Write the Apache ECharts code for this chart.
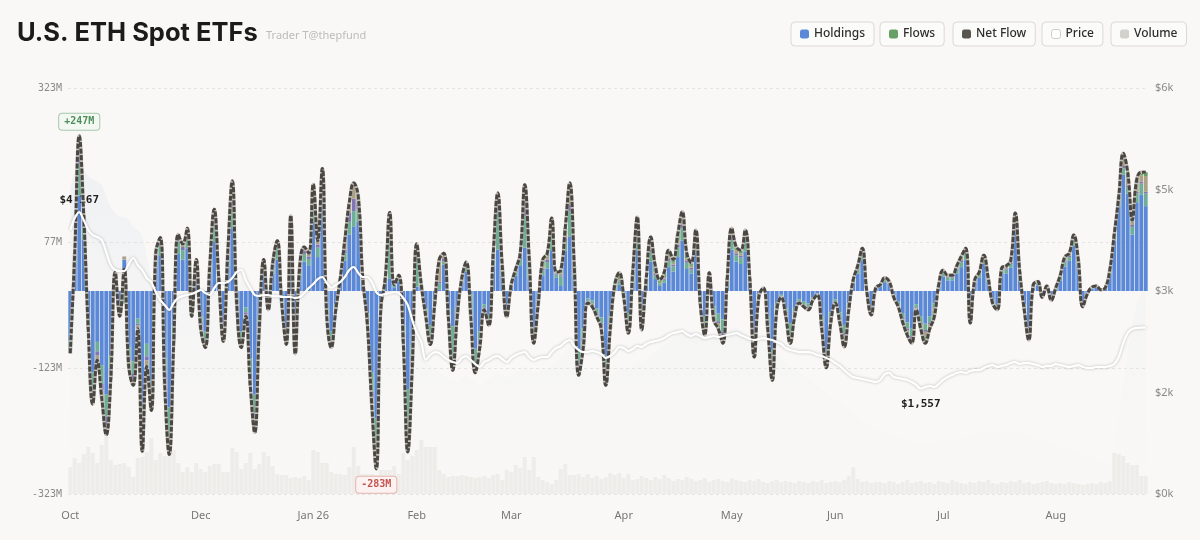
<!DOCTYPE html>
<html><head><meta charset="utf-8">
<script src="https://cdn.jsdelivr.net/npm/echarts@6/dist/echarts.min.js"></script>
<style>html,body{margin:0;padding:0;background:#f9f8f6;}#c{width:1200px;height:540px;}</style>
</head><body><div id="c"></div>
<script>
// ---- tick labels ----
const xTickIndex = [0, 29, 54, 77, 98, 123, 147, 170, 194, 219];
const xTickLabels = ['Oct', 'Dec', 'Jan 26', 'Feb', 'Mar', 'Apr', 'May', 'Jun', 'Jul', 'Aug'];
const flowTicks = [-323, -123, 77, 323];

// ---- daily net flow ($M) ----
const netFlow = [
-99,60,247,120,-60,-180,-110,-170,-229,-140,
30,-40,35,-120,-150,-60,-255,-120,-190,60,
85,-150,-260,-80,90,75,100,-40,50,-60,
-90,40,130,20,-80,60,175,-20,-90,-40,
-150,-225,-60,50,-30,45,80,-20,-85,120,
-100,40,70,60,170,80,195,-40,-90,-30,
20,80,140,172,150,20,-50,-180,-283,-30,
20,125,10,25,-80,-256,-120,75,10,-40,
-85,-20,50,60,-40,-126,-40,20,46,-40,
-130,-90,-30,-55,60,156,40,-41,10,35,
60,169,50,-83,-20,50,60,116,30,33,
100,172,40,-134,-90,-19,-25,-41,-60,-150,
-60,10,29,-10,-67,30,118,-62,20,86,
40,18,30,65,50,90,126,60,45,97,
-20,-70,29,-46,-60,-83,20,100,70,65,
97,20,-105,-10,5,-60,-142,-30,-10,-40,
-83,-40,-19,-25,-30,-15,-6,-60,-122,-50,
-19,-50,-89,-30,18,40,68,0,-38,5,
10,21,15,-10,-25,-50,-70,-83,-30,-60,
-83,-60,-41,10,33,25,25,40,55,68,
-51,18,30,57,20,-20,-30,37,40,49,
124,30,-30,-78,10,15,-10,8,-15,5,
25,54,60,89,50,-25,-5,6,8,2,
5,33,90,150,219,188,113,177,189,189];

// ---- per-issuer components ($M) ----
const holdings = [
-80,44,152,82,-45,-130,-81,-118,-165,-102,
3,-20,50,-89,-112,-44,-185,-84,-143,40,
57,-107,-185,-55,59,50,68,-23,31,-41,
-64,25,78,10,-55,40,100,-12,-64,-26,
-107,-165,-41,32,-20,28,50,-13,-59,80,
-72,24,47,41,110,54,172,-27,-64,-21,
13,48,90,102,110,13,-35,-130,-203,-20,
13,20,6,15,-55,-156,-86,7,6,-27,
-55,-13,2,42,-27,-56,-27,13,31,-5,
-92,-64,-21,-38,41,66,25,-28,6,24,
41,69,20,-58,-13,25,36,65,21,8,
64,87,22,-95,-60,-12,-15,-28,-42,-103,
-40,2,10,-4,-35,13,65,-26,8,47,
19,8,13,38,31,54,80,35,28,61,
-11,-41,7,-25,-36,-45,10,66,47,43,
63,12,-67,-5,3,-40,-94,-19,-6,-27,
-51,-27,-13,-17,-20,-10,-6,-41,-95,-34,
-13,-34,-54,-20,13,28,49,0,-27,4,
7,14,11,-6,-17,-35,-50,-60,-21,-41,
-52,-40,-20,7,23,17,17,28,38,49,
-29,13,21,43,15,-15,-22,27,28,37,
98,16,-21,-59,6,9,-3,3,-6,4,
17,39,48,72,41,-20,-4,4,5,2,
4,27,80,135,185,155,90,140,153,135];
const teal = [
-10,8,50,20,-8,-30,-15,-30,-35,-20,
0,-15,-20,-15,-20,-8,-40,-20,-25,10,
15,-25,-45,-15,20,15,18,-10,10,-10,
-15,8,25,5,-15,10,30,-5,-15,-8,
-25,-30,-10,10,-5,10,20,-4,-15,20,
-15,8,12,10,25,15,10,-8,-15,-5,
4,12,20,25,20,4,-8,-30,-50,-5,
4,95,2,5,-15,-80,-20,60,2,-8,
-20,-4,10,5,-8,-60,-8,4,8,-30,
-25,-15,-5,-10,10,60,8,-8,2,6,
10,50,25,-15,-4,8,10,30,5,15,
15,40,8,-20,-15,-3,-4,-8,-10,-25,
-10,2,5,-2,-20,5,20,-25,4,15,
6,3,5,10,8,15,20,10,6,15,
-4,-15,4,-10,-12,-20,3,15,10,10,
15,3,-20,-2,1,-10,-25,-5,-2,-6,
-20,-6,-3,-4,-5,-2,-1,-10,-10,-8,
-3,-8,-12,-5,3,6,10,0,-6,1,
2,3,2,-2,-4,-8,-10,-12,-5,-10,
-10,-10,-6,2,5,4,4,6,8,10,
-15,3,5,8,3,-3,-4,5,6,6,
15,10,-5,-10,2,3,-2,2,-3,1,
4,8,6,8,5,-3,-1,1,1,0,
1,3,5,6,10,10,12,15,18,20];
const purple = [
-4,3,25,8,-3,-10,-6,-10,-14,-8,
2,-2,0,-6,-8,-3,-15,-6,-10,4,
5,-8,-15,-5,5,5,6,-3,3,-4,
-5,3,15,2,-5,5,25,-1,-5,-3,
-8,-10,-4,3,-2,3,4,-1,-5,10,
-5,3,5,4,20,5,5,-2,-5,-2,
1,5,15,20,10,1,-3,-10,-15,-2,
1,5,1,2,-5,-10,-6,3,1,-2,
-5,-1,3,5,-2,-5,-2,1,3,-2,
-5,-5,-2,-3,4,20,3,-2,1,2,
4,20,2,-5,-1,3,4,6,2,2,
5,10,2,-6,-5,-1,-1,-2,-3,-12,
-3,1,2,-1,-3,2,5,-3,1,4,
2,1,2,3,3,5,6,3,3,5,
-1,-4,1,-3,-3,-5,1,5,3,3,
5,1,-5,-1,0,-3,-8,-2,-1,-2,
-4,-2,-1,-1,-2,-1,0,-3,-5,-3,
-1,-3,-5,-2,1,2,3,0,-2,0,
0,1,1,-1,-1,-2,-3,-4,-1,-3,
-3,-3,-2,0,2,1,1,2,3,3,
-2,1,1,2,1,-1,-1,2,2,2,
4,1,-1,-3,1,1,-3,1,-3,0,
1,2,2,3,1,-1,0,0,0,0,
0,1,1,2,4,3,3,3,3,3];
const tan = [
-5,5,15,10,-4,-10,-8,-12,-15,-10,
25,-3,5,-10,-10,-5,-15,-10,-12,6,
8,-10,-15,-5,6,5,8,-4,6,-5,
-6,4,12,3,-5,5,20,-2,-6,-3,
-10,-20,-5,5,-3,4,6,-2,-6,10,
-8,5,6,5,15,6,8,-3,-6,-2,
2,15,15,25,10,2,-4,-10,-15,-3,
2,5,1,3,-5,-10,-8,5,1,-3,
-5,-2,35,8,-3,-5,-3,2,4,-3,
-8,-6,-2,-4,5,10,4,-3,1,3,
5,20,3,-5,-2,4,5,10,2,3,
6,15,3,-8,-5,-1,-2,-3,-5,-10,
-4,1,2,-1,-4,2,8,-3,2,5,
3,1,2,4,3,6,8,4,3,6,
-2,-5,2,-3,-4,-5,2,6,5,4,
6,2,-8,-1,1,-4,-10,-2,-1,-3,
-5,-3,-1,-2,-2,-1,0,-4,-8,-3,
-1,-3,-15,-2,1,3,4,0,-2,0,
1,2,1,-1,-2,-3,-4,-5,-2,-4,
-8,-4,-3,1,2,2,2,3,4,4,
-3,1,2,3,1,-1,-2,2,3,3,
5,2,-2,-4,1,1,-1,1,-2,0,
2,3,3,4,2,-1,0,1,1,0,
0,1,2,3,8,12,6,15,10,25];
const flows = [
0,0,5,0,0,0,0,0,0,0,
0,0,0,0,0,0,0,0,0,0,
0,0,0,0,0,0,0,0,0,0,
0,0,0,0,0,0,0,0,0,0,
0,0,0,0,0,0,0,0,0,0,
0,0,0,0,0,0,0,0,0,0,
0,0,0,0,0,0,0,0,0,0,
0,0,0,0,0,0,0,0,0,0,
0,0,0,0,0,0,0,0,0,0,
0,0,0,0,0,0,0,0,0,0,
0,10,0,0,0,10,5,5,0,5,
10,20,5,-5,-5,-2,-3,0,0,0,
-3,4,10,-2,-5,8,20,-5,5,15,
10,5,8,10,5,10,12,8,5,10,
-2,-5,15,-5,-5,-8,4,8,5,5,
8,2,-5,-1,0,-3,-5,-2,0,-2,
-3,-2,-1,-1,-1,-1,0,-2,-4,-2,
-1,-2,-3,-1,0,1,2,0,-1,0,
0,1,0,0,-1,-2,-3,-2,-1,-2,
-10,-3,-10,0,1,1,1,1,2,2,
-2,0,1,1,0,0,-1,1,1,1,
2,1,-1,-2,0,1,-1,1,-1,0,
1,2,1,2,1,0,0,0,1,0,
0,1,2,4,12,8,2,4,5,6];

// ---- ETH price ($) ----
const price = [
3900,4079,4167,4049,3901,3827,3798,3754,3576,3384,
3310,3295,3295,3399,3488,3384,3310,3192,3133,2985,
2867,2793,2719,2823,2897,2926,2941,2956,2985,3015,
2970,2941,3044,3118,3118,3133,3192,3281,3310,3163,
3044,2941,2926,2941,2941,2926,2926,2911,2911,2911,
2897,2911,2970,3044,3103,3177,3207,3118,3044,3089,
3133,3207,3310,3355,3266,3207,3207,3133,2985,2941,
2956,2970,2985,2970,2897,2793,2571,2379,2246,1980,
2054,2098,2084,2025,1980,1951,1936,2010,2039,1980,
1921,1877,1951,1980,2025,2039,1995,1951,2010,2054,
2084,2098,2025,1980,2010,2025,2025,2098,2158,2187,
2246,2276,2187,2128,2098,2098,2113,2098,2069,2010,
2039,2098,2172,2158,2113,2143,2187,2172,2217,2246,
2261,2276,2305,2350,2379,2394,2409,2364,2335,2364,
2335,2305,2320,2335,2320,2335,2350,2364,2379,2350,
2320,2291,2276,2291,2305,2291,2276,2246,2217,2158,
2128,2113,2098,2098,2098,2084,2054,2039,2010,1980,
1936,1892,1832,1773,1729,1714,1699,1685,1670,1655,
1685,1773,1788,1729,1714,1699,1685,1655,1611,1557,
1581,1596,1581,1626,1685,1729,1759,1788,1803,1788,
1818,1832,1832,1862,1892,1906,1877,1892,1906,1936,
1951,1921,1936,1936,1921,1906,1877,1892,1892,1921,
1906,1892,1877,1892,1906,1877,1862,1862,1877,1877,
1877,1892,1921,2025,2231,2379,2438,2453,2460,2460];

// ---- faint upper price band ($) ----
const priceBand = [
4500,4750,4800,4780,4700,4650,4620,4560,4400,4240,
4150,4100,4090,4050,3950,3900,3800,3500,3200,3050,
2950,2900,2850,2850,2900,2950,2950,2950,2950,2950,
2900,2900,2950,3000,3000,3050,3100,3150,3150,3100,
3000,2950,2900,2900,2900,2900,2900,2900,2900,2900,
2900,2900,2950,3000,3050,3100,3100,3050,3000,3000,
3050,3100,3200,3250,3200,3150,3150,3100,2950,2900,
2900,2900,2900,2850,2800,2700,2500,2300,2150,1950,
1900,1850,1800,1750,1700,1680,1650,1700,1750,1700,
1650,1600,1650,1700,1750,1800,1750,1700,1750,1800,
1850,1900,1850,1800,1800,1850,1850,1900,1950,2000,
2100,2150,2050,1950,1850,1800,1800,1800,1750,1700,
1750,1800,1850,1850,1850,1900,1950,1950,2000,2050,
2100,2150,2200,2250,2300,2350,2400,2350,2300,2350,
2350,2300,2300,2300,2350,2400,2400,2450,2450,2400,
2350,2300,2250,2250,2200,2150,2100,2050,2000,1950,
1900,1850,1800,1750,1700,1650,1600,1550,1500,1450,
1400,1350,1300,1250,1200,1150,1100,1050,1000,950,
950,900,900,850,850,800,800,800,750,750,
750,750,750,800,800,800,800,800,850,850,
850,850,900,900,900,900,900,900,900,900,
900,900,900,850,850,800,800,800,750,750,
700,700,650,650,600,600,550,550,500,500,
450,500,700,1100,1600,2100,2500,2800,2950,3000];

// ---- trading volume ($M) ----
const volume = [
270,360,310,400,470,410,310,490,570,340,
290,300,310,270,170,360,370,420,560,340,
410,380,470,440,310,220,270,220,310,250,
220,280,300,300,220,220,460,420,250,310,
410,250,300,420,380,280,200,190,190,160,
170,160,180,140,440,420,310,310,220,200,
200,190,270,470,280,200,200,200,190,240,
240,240,280,200,410,340,380,440,540,470,
470,470,240,200,170,180,180,190,180,170,
160,170,180,160,190,200,140,240,220,290,
260,370,240,370,170,140,120,100,140,250,
300,190,190,200,170,200,160,180,150,170,
210,190,210,160,200,140,150,180,160,140,
170,150,190,160,130,150,140,170,150,130,
140,160,120,140,150,130,120,160,140,130,
120,140,130,150,120,110,130,140,120,130,
120,110,130,120,110,130,120,140,110,120,
130,120,140,180,270,150,120,130,110,120,
120,110,130,120,100,120,140,110,120,130,
110,120,100,130,120,110,140,120,110,100,
120,110,130,120,140,110,100,120,110,130,
120,140,110,120,100,110,120,130,110,100,
110,100,120,110,100,90,100,110,100,120,
110,130,410,400,380,310,290,290,180,180];

const categories = netFlow.map((_, i) => 'Day ' + (i + 1));

const mono = 'DejaVu Sans Mono';
const sans = 'Noto Sans';

function legendBox(name, left, itemStyle) {
  return {
    show: true, data: [itemStyle ? { name: name, itemStyle: itemStyle } : name],
    left: left, top: 22, padding: [6, 9, 6, 9], icon: 'roundRect',
    itemWidth: 9, itemHeight: 9, itemGap: 0,
    backgroundColor: '#fbfbfa', borderColor: '#dcd9d3', borderWidth: 1, borderRadius: 4,
    textStyle: { fontFamily: sans, fontSize: 12, fontWeight: 500, color: '#2e2e2e' }, selectedMode: false
  };
}

function stackBar(name, data, color) {
  return {
    name: name, type: 'bar', stack: 'flow', yAxisIndex: 0, data: data,
    barGap: '-100%', barCategoryGap: '14%', z: 3, silent: true,
    itemStyle: { color: color }
  };
}

const chart = echarts.init(document.getElementById('c'));
chart.setOption({
  animation: false,
  backgroundColor: '#f9f8f6',
  title: [
    { text: 'U.S. ETH Spot ETFs', left: 12, top: 15,
      textStyle: { fontFamily: 'Inter', fontWeight: 700, fontSize: 25.5, color: '#1b1b1b' } },
    { text: 'Trader T@thepfund', left: 261, top: 25,
      textStyle: { fontFamily: sans, fontWeight: 'normal', fontSize: 11, color: '#bcbcbc' } }
  ],
  legend: [
    legendBox('Holdings', 791),
    legendBox('Flows', 880),
    legendBox('Net Flow', 953),
    legendBox('Price', 1042, { color: '#ffffff', borderColor: '#cfcdc8', borderWidth: 1 }),
    legendBox('Volume', 1111, { color: '#d3d1cc' })
  ],
  grid: { left: 68, right: 52, top: 88, bottom: 46 },
  xAxis: {
    type: 'category', data: categories, boundaryGap: true,
    axisLine: { show: false }, axisTick: { show: false }, splitLine: { show: false },
    axisLabel: {
      interval: function (idx) { return xTickIndex.indexOf(idx) >= 0; },
      formatter: function (v, idx) { const k = xTickIndex.indexOf(idx); return k >= 0 ? xTickLabels[k] : ''; },
      color: '#777', fontFamily: sans, fontSize: 11, margin: 16
    }
  },
  yAxis: [
    { type: 'value', min: -323, max: 323, position: 'left',
      axisLine: { show: false }, axisTick: { show: false, customValues: flowTicks },
      axisLabel: { customValues: flowTicks, formatter: function (v) { return v + 'M'; },
        color: '#8a8a8a', fontFamily: mono, fontSize: 10, margin: 6 },
      splitLine: { show: true, lineStyle: { color: '#e6e4e0', type: [3, 3], width: 1 } } },
    { type: 'value', min: 0, max: 6000, interval: 1500, position: 'right',
      axisLine: { show: false }, axisTick: { show: false }, splitLine: { show: false },
      axisLabel: { formatter: function (v) { return '$' + Math.round(v / 1000) + 'k'; },
        color: '#8a8a8a', fontFamily: sans, fontSize: 11, margin: 7 } },
    { type: 'value', min: 0, max: 4060, show: false, splitLine: { show: false } }
  ],
  series: [
    { name: 'Band', type: 'line', yAxisIndex: 1, data: priceBand, smooth: 0.5, symbol: 'none',
      silent: true, z: 1, lineStyle: { width: 0 },
      areaStyle: { color: new echarts.graphic.LinearGradient(0, 0, 0, 1, [
        { offset: 0, color: 'rgba(216,223,236,0.42)' },
        { offset: 1, color: 'rgba(240,241,244,0.08)' }]) } },
    { name: 'Volume', type: 'bar', yAxisIndex: 2, data: volume, barGap: '-100%',
      barCategoryGap: '14%', z: 2, silent: true, itemStyle: { color: 'rgba(222,219,213,0.38)' } },
    stackBar('Holdings', holdings, '#5b89d7'),
    stackBar('Teal', teal, '#6fae97'),
    stackBar('Purple', purple, '#8077b2'),
    stackBar('Tan', tan, '#aca187'),
    stackBar('Flows', flows, '#67a064'),
    { name: 'NetBase', type: 'line', data: netFlow, smooth: 0.45, symbol: 'none', z: 5, silent: true,
      lineStyle: { color: '#c4c0b9', width: 3.4 } },
    { name: 'Net Flow', type: 'line', data: netFlow, smooth: 0.45, symbol: 'none', z: 6, silent: true,
      itemStyle: { color: '#58544e' },
      lineStyle: { color: '#4a4743', width: 3, type: [5, 1.6] },
      markPoint: {
        symbol: 'circle', symbolSize: 0, silent: true,
        data: [
          { coord: [2, 247], value: 247,
            label: { show: true, position: 'top', distance: 6, formatter: '+{c}M',
              color: '#4f8d5b', backgroundColor: '#f3f8f3', borderColor: '#a6c9ad', borderWidth: 1,
              borderRadius: 3, padding: [3, 5], fontFamily: mono, fontSize: 10, fontWeight: 'bold' } },
          { coord: [68, -283], value: -283,
            label: { show: true, position: 'bottom', distance: 8, formatter: '{c}M',
              color: '#c4544f', backgroundColor: '#fbf2f1', borderColor: '#e5b5b1', borderWidth: 1,
              borderRadius: 3, padding: [3, 5], fontFamily: mono, fontSize: 10, fontWeight: 'bold' } }
        ]
      } },
    { name: 'Price', type: 'line', yAxisIndex: 1, data: price, smooth: 0.3, symbol: 'none', z: 7, silent: true,
      itemStyle: { color: '#ffffff' },
      lineStyle: { color: '#ffffff', width: 2.2, shadowColor: 'rgba(0,0,0,0.25)', shadowBlur: 3 },
      markPoint: {
        symbol: 'circle', symbolSize: 0, silent: true,
        label: { show: true, color: '#1f1f1f', fontFamily: mono, fontSize: 11, fontWeight: 'bold',
          formatter: function (p) { return '$' + p.value.toLocaleString('en-US'); } },
        data: [
          { coord: [2, 4167], value: 4167, label: { position: 'top', distance: 6 } },
          { coord: [189, 1557], value: 1557, label: { position: 'bottom', distance: 10 } }
        ]
      } }
  ]
});
</script></body></html>
